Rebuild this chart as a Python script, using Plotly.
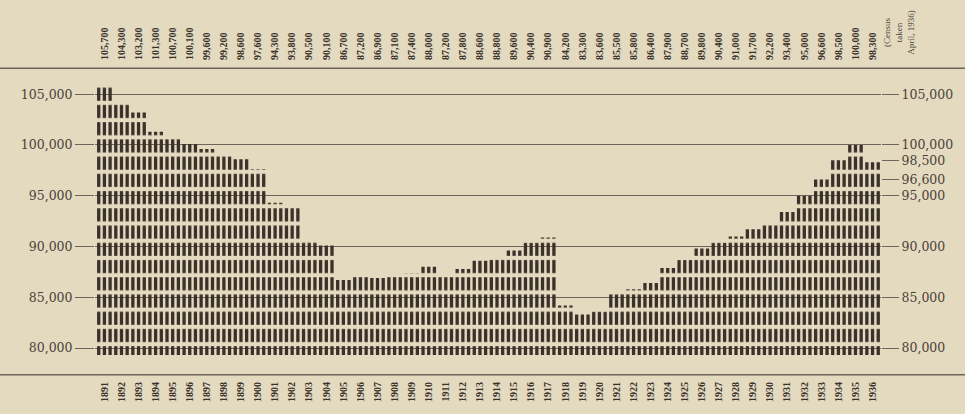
import plotly.graph_objects as go

years = list(range(1891, 1937))
values = [105700, 104300, 103200, 101300, 100700, 100100, 99600, 99200, 98600, 97600,
          94300, 93800, 90500, 90100, 86700, 87200, 86900, 87100, 87400, 88000,
          87200, 87800, 88600, 88800, 89600, 90400, 90900, 84200, 83300, 83600,
          85500, 85800, 86400, 87900, 88700, 89800, 90400, 91000, 91700, 92200,
          93400, 95000, 96600, 98500, 100000, 98300]
top_labels = [f"{v:,}" for v in values]
year_labels = [str(y) for y in years]
left_ticks = [80000, 85000, 90000, 95000, 100000, 105000]
right_ticks = [80000, 85000, 90000, 95000, 96600, 98500, 100000, 105000]

BG = "#E4DAC0"
INK = "#3A322A"
TXT = "#4A4238"
LINE = "#6E655A"

x_range = [1890.449, 1936.495]
y_range = [79323, 106692]

fig = go.Figure()
for k in range(3):
    fig.add_trace(go.Bar(
        x=years, y=values, showlegend=False, hoverinfo="skip",
        marker=dict(color=INK, line=dict(width=0),
                    pattern=dict(shape="-", size=17.233, solidity=0.24,
                                 fgcolor=BG, bgcolor=INK, fillmode="replace")),
    ))
fig.add_trace(go.Scatter(x=years, y=values, xaxis="x2", yaxis="y2", mode="markers",
                         marker=dict(opacity=0), hoverinfo="skip", showlegend=False))

fig.update_layout(
    width=965, height=414,
    margin=dict(l=95, r=84, t=77, b=54),
    paper_bgcolor=BG, plot_bgcolor=BG,
    barmode="group", bargap=0, bargroupgap=0.42,
    xaxis=dict(range=x_range, tickvals=years, ticktext=year_labels, tickangle=-90,
               ticks="", showgrid=False, showline=False, zeroline=False,
               ticklabelstandoff=24,
               tickfont=dict(family="Liberation Serif", size=10, color=INK, weight="bold")),
    xaxis2=dict(range=x_range, overlaying="x", side="top", anchor="y", tickvals=years,
                ticktext=top_labels, tickangle=-90, ticks="", showgrid=False,
                showline=False, zeroline=False, ticklabelstandoff=16,
                tickfont=dict(family="Liberation Serif", size=10, color=INK, weight="bold")),
    yaxis=dict(range=y_range, tickvals=left_ticks, tickformat=",", ticks="outside",
               ticklen=19, tickwidth=1, tickcolor=LINE, showgrid=True, gridcolor=LINE,
               gridwidth=1, showline=False, zeroline=False, ticklabelstandoff=0,
               tickfont=dict(family="DejaVu Serif", size=12.5, color=TXT)),
    yaxis2=dict(range=y_range, overlaying="y", side="right", anchor="x", tickvals=right_ticks,
                tickformat=",", ticks="outside", ticklen=17, tickwidth=1, tickcolor=LINE,
                showgrid=False, showline=False, zeroline=False, ticklabelstandoff=0,
                tickfont=dict(family="DejaVu Serif", size=12.5, color=TXT)),
    shapes=[
        dict(type="line", xref="paper", yref="paper", x0=-0.15, x1=1.15,
             y0=1.0318, y1=1.0318, line=dict(color=LINE, width=1.5)),
        dict(type="line", xref="paper", yref="paper", x0=-0.15, x1=1.15,
             y0=-0.0707, y1=-0.0707, line=dict(color=LINE, width=1.5)),
    ],
    annotations=[
        dict(text="(Census<br>taken<br>April, 1936)", xref="paper", yref="paper",
             x=1.0229, y=1.1625, xanchor="center", yanchor="middle",
             textangle=-90, showarrow=False, align="center",
             font=dict(family="Liberation Serif", size=9, color=TXT)),
    ],
)

fig.write_html("out.html", config={"displayModeBar": False},
               post_script="document.body.style.margin='0';")
